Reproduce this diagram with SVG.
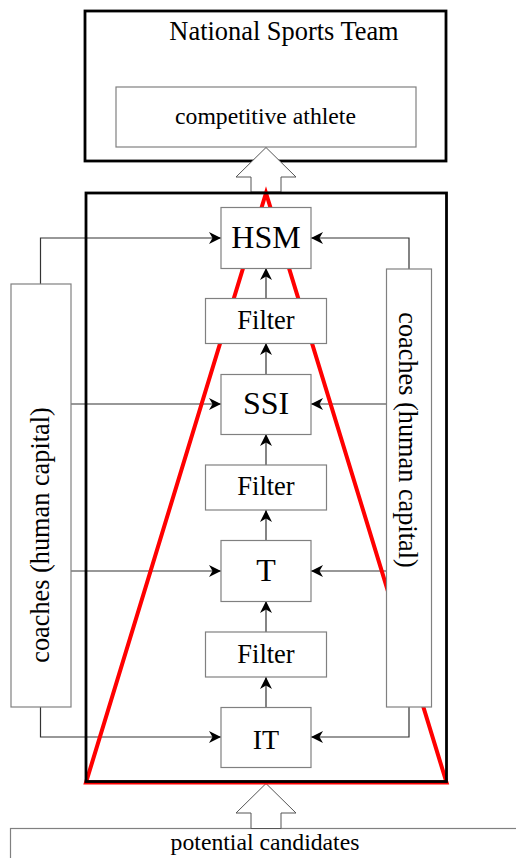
<svg xmlns="http://www.w3.org/2000/svg" width="516" height="858" viewBox="0 0 516 858">
<style>
.t{fill:#000;text-anchor:middle}
.box{fill:#fff;stroke:#808080;stroke-width:1.2}
.frame{fill:none;stroke:#000;stroke-width:2.8}
.c{fill:none;stroke:#333;stroke-width:1.2}
.hollow{fill:#fff;stroke:#555;stroke-width:1}
</style>
<defs>
<marker id="ah" markerUnits="userSpaceOnUse" markerWidth="13" markerHeight="12" refX="12" refY="6" orient="auto">
<path d="M0,0 L12,6 L0,12 L3.5,6 Z" fill="#000"/>
</marker>
</defs>
<rect width="516" height="858" fill="#fff"/>
<g id="national-team">
<rect class="frame" x="85" y="11" width="361" height="150" fill="#fff"/>
<text class="t" x="284" y="40" font-size="26.4" font-family="Liberation Serif">National Sports Team</text>
</g>
<g id="competitive-athlete">
<rect class="box" x="116" y="87" width="300" height="60"/>
<text class="t" x="265.5" y="124" font-size="23.7" font-family="Liberation Serif">competitive athlete</text>
</g>
<g id="potential-candidates">
<rect class="box" x="10.5" y="828.5" width="520" height="60"/>
<text class="t" x="265" y="850" font-size="23.7" font-family="Liberation Serif">potential candidates</text>
</g>
<g id="connectors">
<path class="c" d="M40.5,284 V238 H221" marker-end="url(#ah)"/>
<path class="c" d="M71,404 H221" marker-end="url(#ah)"/>
<path class="c" d="M71,571 H221" marker-end="url(#ah)"/>
<path class="c" d="M40.5,707 V737 H221" marker-end="url(#ah)"/>
<path class="c" d="M409,269 V238 H311" marker-end="url(#ah)"/>
<path class="c" d="M386,404 H311" marker-end="url(#ah)"/>
<path class="c" d="M386,571 H311" marker-end="url(#ah)"/>
<path class="c" d="M409,707 V737 H311" marker-end="url(#ah)"/>
<path class="c" d="M266,707 V677" marker-end="url(#ah)"/>
<path class="c" d="M266,632 V601" marker-end="url(#ah)"/>
<path class="c" d="M266,540 V510" marker-end="url(#ah)"/>
<path class="c" d="M266,465 V434" marker-end="url(#ah)"/>
<path class="c" d="M266,374 V343" marker-end="url(#ah)"/>
<path class="c" d="M266,298 V268" marker-end="url(#ah)"/>
<polygon class="hollow" points="266,147.5 296,177 281,177 281,192 251,192 251,177 236,177"/>
<polygon class="hollow" points="266,783.5 296,813 281,813 281,828.5 251,828.5 251,813 236,813"/>
</g>
<g id="pyramid">
<polygon points="266,193 446.5,782.5 86,782.5" fill="none" stroke="#f00" stroke-width="4" stroke-linejoin="miter"/>
</g>
<g id="development-frame">
<rect class="frame" x="86" y="193" width="360.5" height="588.5"/>
</g>
<g id="coaches-left">
<rect class="box" x="11" y="284" width="60" height="423"/>
<text class="t" font-size="26.3" font-family="Liberation Serif" transform="translate(48.5,535) rotate(-90)">coaches (human capital)</text>
</g>
<g id="coaches-right">
<rect class="box" x="386.5" y="269" width="45" height="438"/>
<text class="t" font-size="26.3" font-family="Liberation Serif" transform="translate(399,440) rotate(90)">coaches (human capital)</text>
</g>
<g id="hsm">
<rect class="box" x="221" y="207.5" width="90" height="61"/>
<text class="t" x="266" y="247.5" font-size="32" font-family="Liberation Serif">HSM</text>
</g>
<g id="filter1">
<rect class="box" x="205.5" y="298.5" width="121" height="45"/>
<text class="t" x="266" y="328.5" font-size="26.5" font-family="Liberation Serif">Filter</text>
</g>
<g id="ssi">
<rect class="box" x="221" y="374.5" width="90" height="60"/>
<text class="t" x="266" y="413.5" font-size="32" font-family="Liberation Serif">SSI</text>
</g>
<g id="filter2">
<rect class="box" x="205.5" y="465" width="121" height="45"/>
<text class="t" x="266" y="495" font-size="26.5" font-family="Liberation Serif">Filter</text>
</g>
<g id="t">
<rect class="box" x="221" y="540.5" width="90" height="61"/>
<text class="t" x="266" y="581" font-size="32" font-family="Liberation Serif">T</text>
</g>
<g id="filter3">
<rect class="box" x="205.5" y="632" width="121" height="45"/>
<text class="t" x="266" y="662.5" font-size="26.5" font-family="Liberation Serif">Filter</text>
</g>
<g id="it">
<rect class="box" x="221" y="707.5" width="90" height="60"/>
<text class="t" x="266" y="748.5" font-size="28" font-family="Liberation Serif">IT</text>
</g>
</svg>
